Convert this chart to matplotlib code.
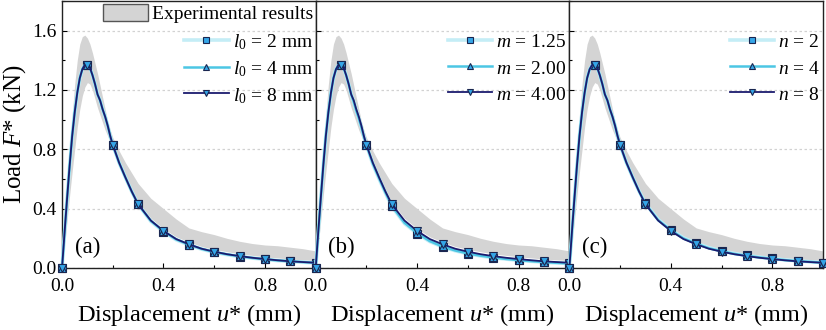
import matplotlib
matplotlib.use("Agg")
import matplotlib.pyplot as plt
from matplotlib.patches import Patch
from matplotlib.lines import Line2D
from matplotlib.ticker import MultipleLocator

plt.rcParams["font.family"] = ["Liberation Serif", "DejaVu Serif"]
plt.rcParams["mathtext.fontset"] = "custom"
plt.rcParams["mathtext.rm"] = "Liberation Serif"
plt.rcParams["mathtext.it"] = "Liberation Serif:italic"
plt.rcParams["mathtext.bf"] = "Liberation Serif:bold"

# Displacement grid shared by all curves (mm)
u = [0, 0.01, 0.02, 0.03, 0.04, 0.05, 0.06, 0.07, 0.08, 0.09, 0.10,
     0.11, 0.12, 0.13, 0.14, 0.15, 0.16, 0.17, 0.18, 0.19, 0.20,
     0.225, 0.25, 0.275, 0.30, 0.35, 0.40, 0.45, 0.50, 0.55, 0.60,
     0.65, 0.70, 0.75, 0.80, 0.85, 0.90, 0.95, 1.00]

# Experimental envelope (kN)
exp_upper = [0, 0.28, 0.55, 0.80, 1.03, 1.24, 1.40, 1.51, 1.56, 1.57, 1.55,
             1.51, 1.45, 1.38, 1.31, 1.23, 1.15, 1.07, 0.99, 0.93, 0.88,
             0.79, 0.71, 0.64, 0.57, 0.47, 0.40, 0.33, 0.27, 0.245, 0.225,
             0.20, 0.18, 0.165, 0.155, 0.15, 0.14, 0.13, 0.115]
exp_lower = [0, 0.15, 0.32, 0.49, 0.65, 0.80, 0.95, 1.07, 1.16, 1.22, 1.25,
             1.24, 1.20, 1.14, 1.08, 1.03, 0.98, 0.93, 0.89, 0.84, 0.80,
             0.70, 0.60, 0.51, 0.445, 0.335, 0.265, 0.21, 0.175, 0.145, 0.125,
             0.11, 0.095, 0.085, 0.075, 0.068, 0.06, 0.055, 0.05]

# (a) length scale l0
F_l0_2 = [0, 0.24, 0.47, 0.69, 0.89, 1.05, 1.18, 1.28, 1.34, 1.37, 1.37,
          1.35, 1.30, 1.24, 1.17, 1.13, 1.07, 1.02, 0.96, 0.89, 0.83,
          0.71, 0.61, 0.515, 0.43, 0.315, 0.245, 0.19, 0.155, 0.127, 0.106,
          0.09, 0.077, 0.067, 0.058, 0.05, 0.044, 0.039, 0.034]
F_l0_4 = [0, 0.24, 0.47, 0.69, 0.89, 1.05, 1.18, 1.28, 1.34, 1.37, 1.37,
          1.35, 1.30, 1.24, 1.17, 1.13, 1.07, 1.02, 0.96, 0.89, 0.83,
          0.71, 0.61, 0.515, 0.43, 0.318, 0.248, 0.193, 0.158, 0.129, 0.108,
          0.092, 0.079, 0.068, 0.059, 0.051, 0.045, 0.04, 0.035]
F_l0_8 = [0, 0.24, 0.47, 0.69, 0.89, 1.05, 1.18, 1.28, 1.34, 1.37, 1.37,
          1.35, 1.30, 1.24, 1.17, 1.13, 1.07, 1.02, 0.96, 0.89, 0.83,
          0.71, 0.61, 0.515, 0.43, 0.32, 0.25, 0.195, 0.16, 0.13, 0.11,
          0.093, 0.08, 0.069, 0.06, 0.052, 0.045, 0.04, 0.035]

# (b) exponent m
F_m_125 = [0, 0.24, 0.47, 0.69, 0.89, 1.05, 1.18, 1.28, 1.34, 1.37, 1.37,
           1.35, 1.30, 1.24, 1.17, 1.12, 1.06, 1.01, 0.95, 0.885, 0.83,
           0.70, 0.60, 0.505, 0.415, 0.30, 0.232, 0.178, 0.142, 0.116, 0.096,
           0.081, 0.069, 0.06, 0.052, 0.045, 0.039, 0.034, 0.03]
F_m_200 = [0, 0.24, 0.47, 0.69, 0.89, 1.05, 1.18, 1.28, 1.34, 1.37, 1.37,
           1.35, 1.30, 1.24, 1.17, 1.12, 1.06, 1.01, 0.95, 0.885, 0.83,
           0.705, 0.605, 0.51, 0.42, 0.305, 0.236, 0.181, 0.145, 0.118, 0.098,
           0.083, 0.071, 0.061, 0.053, 0.046, 0.04, 0.035, 0.031]
F_m_400 = [0, 0.24, 0.47, 0.69, 0.89, 1.05, 1.18, 1.28, 1.34, 1.37, 1.37,
           1.35, 1.30, 1.24, 1.17, 1.13, 1.07, 1.02, 0.96, 0.89, 0.83,
           0.71, 0.61, 0.515, 0.43, 0.32, 0.25, 0.195, 0.16, 0.13, 0.11,
           0.093, 0.08, 0.069, 0.06, 0.052, 0.045, 0.04, 0.035]

# (c) exponent n
F_n_2 = [0, 0.24, 0.47, 0.69, 0.89, 1.05, 1.18, 1.28, 1.34, 1.37, 1.37,
         1.35, 1.30, 1.24, 1.17, 1.13, 1.07, 1.02, 0.96, 0.89, 0.83,
         0.71, 0.61, 0.518, 0.435, 0.327, 0.258, 0.203, 0.168, 0.137, 0.116,
         0.098, 0.085, 0.073, 0.064, 0.055, 0.048, 0.042, 0.037]
F_n_4 = [0, 0.24, 0.47, 0.69, 0.89, 1.05, 1.18, 1.28, 1.34, 1.37, 1.37,
         1.35, 1.30, 1.24, 1.17, 1.13, 1.07, 1.02, 0.96, 0.89, 0.83,
         0.71, 0.61, 0.516, 0.432, 0.323, 0.254, 0.199, 0.164, 0.133, 0.113,
         0.095, 0.082, 0.071, 0.062, 0.053, 0.046, 0.041, 0.036]
F_n_8 = [0, 0.24, 0.47, 0.69, 0.89, 1.05, 1.18, 1.28, 1.34, 1.37, 1.37,
         1.35, 1.30, 1.24, 1.17, 1.13, 1.07, 1.02, 0.96, 0.89, 0.83,
         0.71, 0.61, 0.515, 0.43, 0.32, 0.25, 0.195, 0.16, 0.13, 0.11,
         0.093, 0.08, 0.069, 0.06, 0.052, 0.045, 0.04, 0.035]

labels_a = [r"$l_0$ = 2 mm", r"$l_0$ = 4 mm", r"$l_0$ = 8 mm"]
labels_b = [r"$m$ = 1.25", r"$m$ = 2.00", r"$m$ = 4.00"]
labels_c = [r"$n$ = 2", r"$n$ = 4", r"$n$ = 8"]
panel_tags = ["(a)", "(b)", "(c)"]

line_colors = ["#c4edf6", "#4cc6e4", "#1b1b6e"]
line_widths = [2.6, 1.8, 1.3]
markers = ["s", "^", "v"]
marker_face = "#35a6e8"
marker_edge = "#1a2650"
band_color = "#d4d4d4"

# marker positions: every 0.1 mm
mark_idx = [i for i, x in enumerate(u) if abs(x * 10 - round(x * 10)) < 1e-9]

fig = plt.figure(figsize=(8.26, 3.3), dpi=100)
axes = fig.subplots(1, 3, sharey=True)
fig.subplots_adjust(left=0.0751, right=0.9964, top=0.997, bottom=0.1879, wspace=0)

series_sets = [
    ([F_l0_2, F_l0_4, F_l0_8], labels_a),
    ([F_m_125, F_m_200, F_m_400], labels_b),
    ([F_n_2, F_n_4, F_n_8], labels_c),
]

leg_kw = dict(frameon=False, fontsize=14, handlelength=2.3, handleheight=1.0,
              handletextpad=0.2, labelspacing=0.35, borderaxespad=0.05,
              borderpad=0.1)

for k, (ax, (curves, labels)) in enumerate(zip(axes, series_sets)):
    ax.fill_between(u, exp_lower, exp_upper, color=band_color, lw=0, zorder=1)
    for y, lab, c, lw, mk in zip(curves, labels, line_colors, line_widths, markers):
        ax.plot(u, y, color=c, lw=lw, marker=mk, markevery=mark_idx,
                ms=5.5, mfc=marker_face, mec=marker_edge, mew=0.8,
                label=lab, clip_on=False, zorder=3)
    ax.set_xlim(0, 1.0)
    ax.set_ylim(0, 1.8)
    ax.xaxis.set_major_locator(MultipleLocator(0.4))
    ax.xaxis.set_minor_locator(MultipleLocator(0.2))
    ax.yaxis.set_major_locator(MultipleLocator(0.4))
    ax.yaxis.set_minor_locator(MultipleLocator(0.2))
    ax.xaxis.set_major_formatter(plt.FuncFormatter(lambda v, p: f"{v:.1f}"))
    ax.yaxis.set_major_formatter(plt.FuncFormatter(lambda v, p: f"{v:.1f}"))
    ax.tick_params(which="both", direction="in", labelsize=14)
    ax.tick_params(axis="x", which="major", pad=7)
    ax.tick_params(axis="y", which="major", pad=4)
    ax.tick_params(which="major", length=3.5, width=0.8)
    ax.tick_params(which="minor", length=2, width=0.8)
    ax.grid(axis="y", which="major", color="#d2d2d2", ls=(0, (2, 2)), lw=0.9)
    ax.set_axisbelow(True)
    for sp in ax.spines.values():
        sp.set_linewidth(1.0)
        sp.set_color("#222222")
    ax.set_xlabel(r"Displacement $u$* (mm)", fontsize=17.5, labelpad=5)
    ax.text(0.05, 0.078, panel_tags[k], transform=ax.transAxes,
            fontsize=16.5, va="center", ha="left", zorder=5)

    handles = [Line2D([0], [0], color=c, lw=lw, marker=mk, ms=4.2,
                      mfc=marker_face, mec=marker_edge, mew=0.8)
               for c, lw, mk in zip(line_colors, line_widths, markers)]
    if k == 0:
        exp_patch = Patch(facecolor=band_color, edgecolor="#555555", lw=1.0)
        leg0 = ax.legend([exp_patch], ["Experimental results"],
                         loc="upper right", bbox_to_anchor=(1.0, 1.0), **leg_kw)
        ax.add_artist(leg0)
    ax.legend(handles, labels, loc="upper right",
              bbox_to_anchor=(1.0, 1.0 - 28 / 266), **leg_kw)

axes[0].set_ylabel(r"Load $F$* (kN)", fontsize=18, labelpad=3)
for ax in axes[1:]:
    ax.tick_params(labelleft=False)

fig.savefig("out.png", dpi=100)
